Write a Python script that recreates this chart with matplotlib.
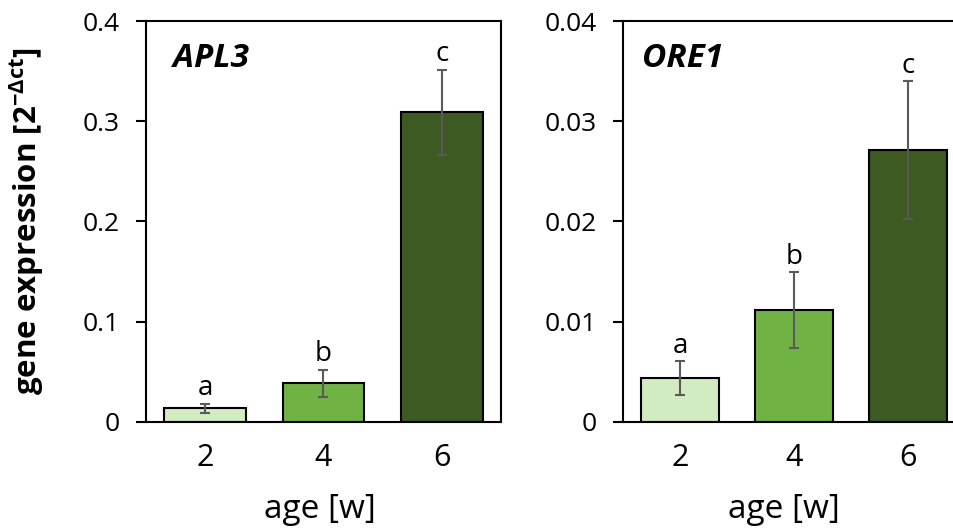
"""
Gene expression by leaf age, two panels (APL3, ORE1)
"""
import numpy as np
import matplotlib
matplotlib.use("Agg")
import matplotlib.pyplot as plt

ages = ["2", "4", "6"]
colors = ["#d2ebc1", "#71b244", "#3c5a22"]

apl3_mean = [0.0137, 0.0386, 0.3088]
apl3_err = [0.0045, 0.0137, 0.0425]
apl3_letters = ["a", "b", "c"]

ore1_mean = [0.00436, 0.01114, 0.0271]
ore1_err = [0.0017, 0.0038, 0.0069]
ore1_letters = ["a", "b", "c"]

plt.rcParams["font.family"] = ["Open Sans", "DejaVu Sans"]
plt.rcParams["mathtext.fontset"] = "custom"
plt.rcParams["mathtext.rm"] = "Open Sans"
plt.rcParams["mathtext.bf"] = "Open Sans:bold"


def draw_panel(ax, means, errs, letters, gene, ymax, yticks, yticklabels, label_x, title_x):
    x = np.arange(len(ages))
    ax.bar(x, means, width=0.69, color=colors, edgecolor="black", linewidth=1.5, zorder=2)
    ax.errorbar(x, means, yerr=errs, fmt="none", ecolor="#5a5a5a", elinewidth=1.5,
                capsize=3.8, capthick=1.5, zorder=3)
    for xi, m, e, lt in zip(x, means, errs, letters):
        ax.annotate(lt, (xi, m + e), xytext=(0, 6), textcoords="offset points",
                    ha="center", va="baseline", fontsize=20)
    ax.set_xlim(-0.5, 2.5)
    ax.set_ylim(0, ymax)
    ax.set_xticks(x)
    ax.set_xticklabels(ages, fontsize=22)
    ax.set_yticks(yticks)
    ax.set_yticklabels(yticklabels, fontsize=19)
    ax.tick_params(axis="x", length=0, pad=15)
    ax.tick_params(axis="y", direction="out", length=7, width=1.5, pad=12)
    for s in ax.spines.values():
        s.set_linewidth(1.5)
    ax.set_xlabel("age [w]", fontsize=24)
    ax.xaxis.set_label_coords(label_x, -0.178)
    ax.text(title_x, 0.907, gene, transform=ax.transAxes, fontsize=24,
            fontweight="bold", fontstyle="italic", va="center", ha="left")


fig = plt.figure(figsize=(9.54, 5.29), dpi=100)
ax1 = fig.add_axes([0.1530, 0.2023, 0.3721, 0.7580])
ax2 = fig.add_axes([0.6530, 0.2023, 0.3585, 0.7580])

draw_panel(ax1, apl3_mean, apl3_err, apl3_letters, "APL3", 0.4,
           [0, 0.1, 0.2, 0.3, 0.4], ["0", "0.1", "0.2", "0.3", "0.4"], 0.49, 0.075)
draw_panel(ax2, ore1_mean, ore1_err, ore1_letters, "ORE1", 0.04,
           [0, 0.01, 0.02, 0.03, 0.04], ["0", "0.01", "0.02", "0.03", "0.04"], 0.47, 0.055)

ax1.set_ylabel(r"gene expression [2$^{\mathbf{-\Delta ct}}$]", fontsize=22.5,
               fontweight="bold")
ax1.yaxis.set_label_coords(-0.282, 0.5)

fig.savefig("out.png", dpi=100)
